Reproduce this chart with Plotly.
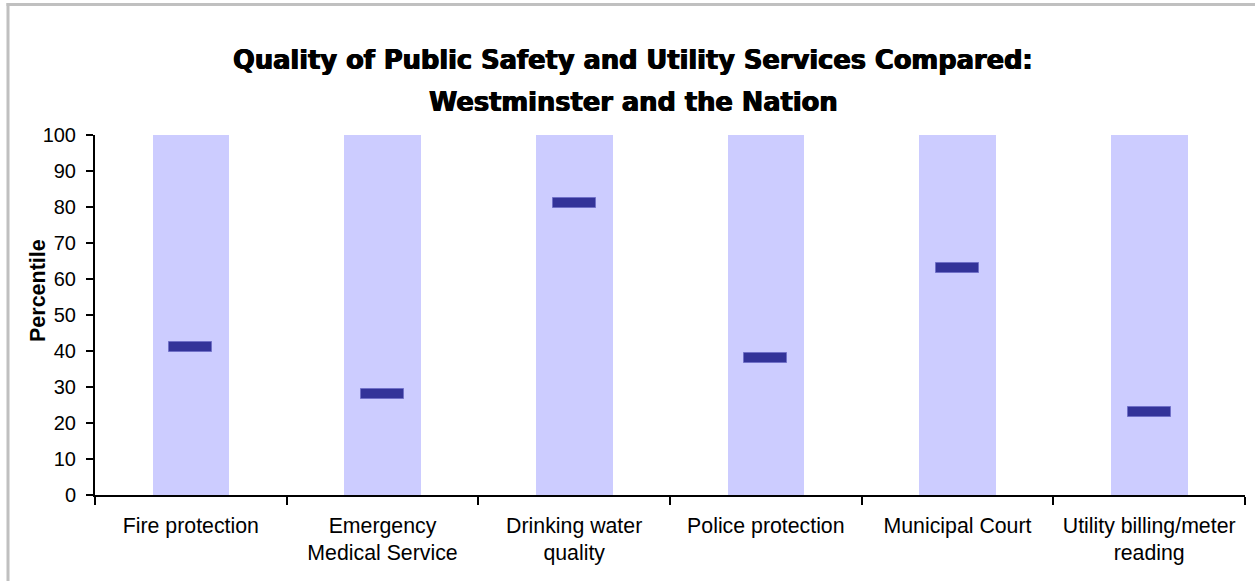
import plotly.graph_objects as go

# Service categories and Westminster's percentile rank against the nation
categories = [
    "Fire protection",
    "Emergency<br>Medical Service",
    "Drinking water<br>quality",
    "Police protection",
    "Municipal Court",
    "Utility billing/meter<br>reading",
]
percentiles = [41, 28, 81, 38, 63, 23]
scale_top = [100, 100, 100, 100, 100, 100]
y_ticks = [0, 10, 20, 30, 40, 50, 60, 70, 80, 90, 100]

title_line1 = "Quality of Public Safety and Utility Services Compared:"
title_line2 = "Westminster and the Nation"

RANGE_COLOR = "#CCCCFF"
MARK_COLOR = "#333399"
MARK_HALF = 1.4  # half thickness of the rank marker, in percentile units

W, H = 1255, 581
L, R, T, B = 95, 10, 135, 86
pw, ph = W - L - R, H - T - B


def px_x(p):
    return (p - L) / pw


def px_y(p):
    return (H - B - p) / ph


fig = go.Figure()

# full national range (0-100) for each service
fig.add_trace(go.Bar(
    x=categories, y=scale_top, width=0.40,
    marker=dict(color=RANGE_COLOR, line=dict(width=0)),
    hoverinfo="skip", showlegend=False,
))

# Westminster's rank shown as a short horizontal marker
fig.add_trace(go.Bar(
    x=categories,
    y=[2 * MARK_HALF] * len(percentiles),
    base=[v - MARK_HALF for v in percentiles],
    width=0.225,
    marker=dict(color=MARK_COLOR, line=dict(color="#7070c8", width=1)),
    customdata=percentiles,
    hovertemplate="%{x}: %{customdata}<extra></extra>",
    showlegend=False,
))

title_font = dict(family="DejaVu Sans, sans-serif", size=25.7, color="black",
                  weight="bold", shadow="0.6px 0 0 black, -0.6px 0 0 black")

border = dict(color="#C0C0C0", width=3)

fig.update_layout(
    width=W, height=H,
    margin=dict(l=L, r=R, t=T, b=B),
    paper_bgcolor="white", plot_bgcolor="white",
    barmode="overlay",
    bargap=0,
    font=dict(family="Arial, Liberation Sans, sans-serif", size=20, color="black"),
    annotations=[
        dict(text="<b>" + title_line1 + "</b>", x=px_x(633), y=px_y(60),
             xref="paper", yref="paper", showarrow=False,
             xanchor="center", yanchor="middle", font=title_font),
        dict(text="<b>" + title_line2 + "</b>", x=px_x(633), y=px_y(102),
             xref="paper", yref="paper", showarrow=False,
             xanchor="center", yanchor="middle", font=title_font),
        dict(text="<b>Percentile</b>", x=px_x(38), y=px_y(291),
             xref="paper", yref="paper", showarrow=False, textangle=-90,
             xanchor="center", yanchor="middle",
             font=dict(family="Arial, Liberation Sans, sans-serif", size=21.5, color="black")),
    ],
    shapes=[
        # frame around the chart: top and left edges
        dict(type="line", xref="paper", yref="paper",
             x0=px_x(6.5), y0=px_y(4.5), x1=px_x(1255), y1=px_y(4.5),
             line=border, layer="below"),
        dict(type="line", xref="paper", yref="paper",
             x0=px_x(8), y0=px_y(3), x1=px_x(8), y1=px_y(581),
             line=border, layer="below"),
    ],
)

fig.update_xaxes(
    type="category",
    range=[-0.5, 5.5],
    showline=True, linecolor="black", linewidth=2,
    ticks="outside", tickson="boundaries", ticklen=8, tickwidth=2, tickcolor="black",
    ticklabelstandoff=10,
    showgrid=False, zeroline=False,
    tickfont=dict(size=21.3),
)

fig.update_yaxes(
    range=[0, 100],
    tickvals=y_ticks,
    showline=True, linecolor="black", linewidth=2,
    ticks="outside", ticklen=7, tickwidth=2, tickcolor="black",
    ticklabelstandoff=6,
    showgrid=False, zeroline=False,
    tickfont=dict(size=20),
)

fig.write_html("out.html")
